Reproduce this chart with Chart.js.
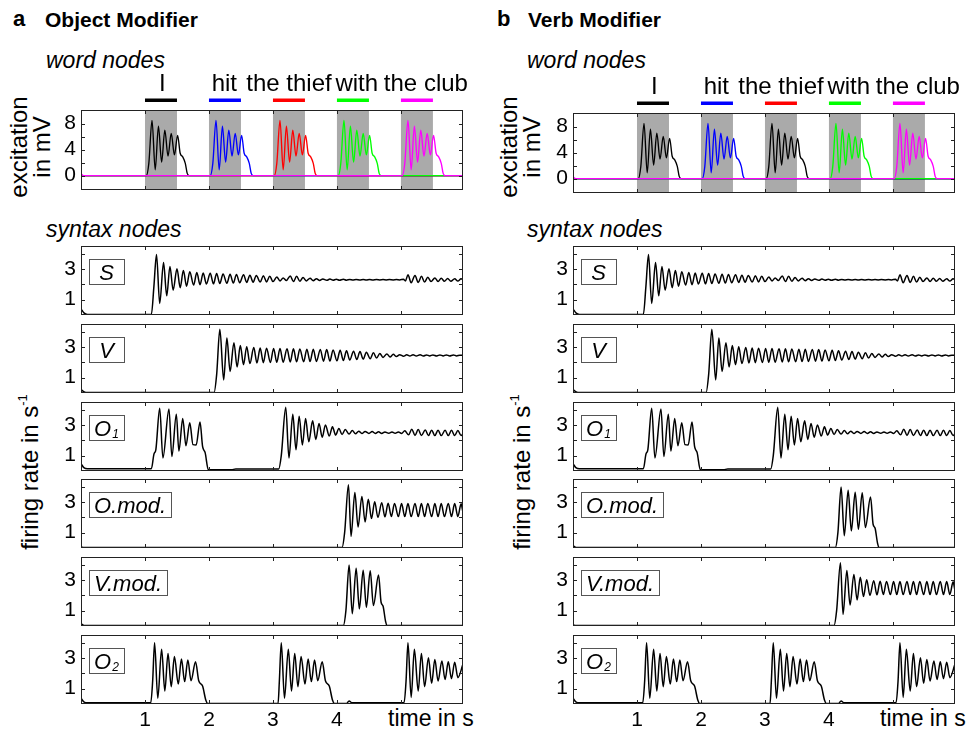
<!DOCTYPE html>
<html>
<head>
<meta charset="utf-8">
<title>Object vs. verb modifier</title>
<script src="https://cdn.jsdelivr.net/npm/chart.js@4.4.1/dist/chart.umd.min.js"></script>
<style>
  body { margin: 0; width: 978px; height: 731px; position: relative; overflow: hidden; background: #fff;
         font-family: "Liberation Sans", Arial, sans-serif; color: #000; }
  canvas { position: absolute; }
  .t { position: absolute; white-space: nowrap; }
  .rot { transform-origin: 0 0; transform: rotate(-90deg) translateX(-50%); }
</style>
</head>
<body>
<script>
// ===== AXES =====
const timeTicks = [1, 2, 3, 4, 5];
const timeTickLabels = [1, 2, 3, 4];
const excitationTicks = [0, 2, 4, 6, 8];
const excitationTickLabels = [0, 4, 8];
const rateTicks = [1, 2, 3, 4];
const rateTickLabels = [1, 3];

// ===== WORD INPUT =====
const words = ['I', 'hit', 'the thief', 'with', 'the club'];
const wordOn = [1, 2, 3, 4, 5];
const wordOff = [1.5, 2.5, 3.5, 4.5, 5.5];
const wordLabelAt = [1.27, 2.24, 3.25, 4.31, 5.39];

// word node excitation in mV, [time s, value]
const excI = [[0,0],[1.02,0],[1.06,1.9],[1.11,8.5],[1.16,0.9],[1.21,7.6],[1.26,2.1],[1.31,7.0],[1.36,3.0],[1.41,6.5],[1.46,3.2],[1.51,6.2],[1.55,3.45],[1.59,2.9],[1.63,1.9],[1.66,0.35],[1.69,0],[5.97,0]];
const excHit = [[0,0],[2.02,0],[2.06,1.9],[2.11,8.5],[2.16,0.9],[2.21,7.6],[2.26,2.1],[2.31,7.0],[2.36,3.0],[2.41,6.5],[2.46,3.2],[2.51,6.2],[2.55,3.45],[2.59,2.9],[2.63,1.9],[2.66,0.35],[2.69,0],[5.97,0]];
const excThief = [[0,0],[3.02,0],[3.06,1.9],[3.11,8.5],[3.16,0.9],[3.21,7.6],[3.26,2.1],[3.31,7.0],[3.36,3.0],[3.41,6.5],[3.46,3.2],[3.51,6.2],[3.55,3.45],[3.59,2.9],[3.63,1.9],[3.66,0.35],[3.69,0],[5.97,0]];
const excWith = [[0,0],[4.02,0],[4.06,1.9],[4.11,8.5],[4.16,0.9],[4.21,7.6],[4.26,2.1],[4.31,7.0],[4.36,3.0],[4.41,6.5],[4.46,3.2],[4.51,6.2],[4.55,3.45],[4.59,2.9],[4.63,1.9],[4.66,0.35],[4.69,0],[5.97,0]];
const excClub = [[0,0.3],[0.04,0.02],[0.08,0],[5.02,0],[5.06,1.9],[5.11,8.5],[5.16,0.9],[5.21,7.6],[5.26,2.1],[5.31,7.0],[5.36,3.0],[5.41,6.5],[5.46,3.2],[5.51,6.2],[5.55,3.45],[5.59,2.9],[5.63,1.9],[5.66,0.35],[5.69,0],[5.97,0]];

// ===== SYNTAX NODES: firing rate in 1/s, [time s, value] =====
const rateS = [[0,0.40],[0.05,0.12],[0.10,0.04],[1.10,0.04],[1.14,1.9],[1.18,3.95],[1.23,0.75],[1.29,3.42],[1.34,1.25],[1.39,3.17],[1.44,1.62],[1.50,3.02],[1.55,1.78],[1.60,2.90],[1.65,1.88],[1.70,2.82],[1.76,1.95],[1.81,2.77],[1.86,1.98],[1.91,2.74],[1.96,2.02],[2.02,2.72],[2.07,2.03],[2.12,2.70],[2.17,2.05],[2.22,2.68],[2.28,2.07],[2.33,2.66],[2.38,2.08],[2.43,2.64],[2.48,2.10],[2.54,2.62],[2.59,2.12],[2.64,2.60],[2.69,2.14],[2.74,2.58],[2.80,2.15],[2.85,2.56],[2.90,2.16],[2.95,2.53],[3.00,2.18],[3.06,2.48],[3.11,2.22],[3.16,2.42],[3.21,2.25],[3.27,2.55],[3.32,2.18],[3.37,2.52],[3.42,2.20],[3.47,2.45],[3.52,2.22],[3.58,2.40],[3.63,2.24],[3.68,2.37],[3.73,2.25],[3.78,2.35],[3.84,2.26],[3.89,2.34],[3.94,2.27],[3.99,2.33],[4.04,2.27],[4.10,2.33],[4.15,2.27],[4.20,2.32],[4.25,2.28],[4.30,2.32],[4.36,2.28],[4.41,2.31],[4.46,2.28],[4.51,2.31],[4.56,2.28],[4.62,2.31],[4.67,2.29],[4.72,2.31],[4.77,2.29],[4.82,2.31],[4.88,2.29],[4.93,2.31],[4.98,2.29],[5.04,2.33],[5.07,2.22],[5.11,2.62],[5.16,2.10],[5.22,2.58],[5.27,2.12],[5.32,2.52],[5.37,2.15],[5.42,2.46],[5.47,2.18],[5.53,2.42],[5.58,2.18],[5.63,2.40],[5.68,2.20],[5.73,2.38],[5.78,2.20],[5.84,2.37],[5.89,2.21],[5.94,2.36],[5.97,2.30]];
const rateV = [[0,0.22],[0.05,0.07],[0.10,0.03],[2.08,0.03],[2.12,1.2],[2.17,4.15],[2.23,0.85],[2.28,3.58],[2.33,1.40],[2.39,3.28],[2.44,1.70],[2.49,3.10],[2.54,1.85],[2.59,3.02],[2.64,1.92],[2.70,2.96],[2.75,1.96],[2.80,2.93],[2.85,1.98],[2.90,2.92],[2.96,1.99],[3.01,2.91],[3.06,2.00],[3.11,2.90],[3.16,2.01],[3.22,2.89],[3.27,2.02],[3.32,2.88],[3.37,2.03],[3.42,2.87],[3.48,2.04],[3.53,2.86],[3.58,2.05],[3.63,2.85],[3.68,2.06],[3.74,2.84],[3.79,2.07],[3.84,2.83],[3.89,2.08],[3.94,2.81],[4.00,2.10],[4.05,2.79],[4.10,2.12],[4.15,2.76],[4.20,2.15],[4.26,2.73],[4.31,2.18],[4.36,2.70],[4.41,2.21],[4.46,2.66],[4.52,2.24],[4.57,2.62],[4.62,2.28],[4.67,2.58],[4.72,2.32],[4.78,2.55],[4.83,2.35],[4.88,2.52],[4.93,2.38],[4.98,2.50],[5.04,2.40],[5.09,2.49],[5.14,2.41],[5.19,2.49],[5.24,2.41],[5.30,2.49],[5.35,2.41],[5.40,2.48],[5.45,2.42],[5.50,2.48],[5.56,2.42],[5.61,2.48],[5.66,2.42],[5.71,2.48],[5.76,2.42],[5.82,2.48],[5.87,2.42],[5.92,2.47],[5.97,2.45]];
const rateO1 = [[0,0.48],[0.05,0.20],[0.10,0.15],[1.10,0.15],[1.14,1.1],[1.17,1.4],[1.23,4.10],[1.28,0.85],[1.375,4.05],[1.42,0.95],[1.49,3.70],[1.53,1.30],[1.59,3.42],[1.64,1.65],[1.70,3.15],[1.75,1.72],[1.80,1.70],[1.86,3.20],[1.90,1.60],[1.94,1.20],[1.99,0.08],[2.35,0.08],[2.42,0.13],[3.09,0.13],[3.13,1.0],[3.20,4.15],[3.25,0.85],[3.31,3.70],[3.36,1.38],[3.41,3.57],[3.46,1.70],[3.51,3.42],[3.56,1.91],[3.62,3.27],[3.67,2.06],[3.72,3.10],[3.77,2.20],[3.82,3.00],[3.88,2.28],[3.93,2.88],[3.98,2.34],[4.03,2.77],[4.08,2.38],[4.13,2.70],[4.19,2.41],[4.24,2.64],[4.29,2.43],[4.34,2.60],[4.39,2.44],[4.44,2.58],[4.50,2.45],[4.55,2.57],[4.60,2.45],[4.65,2.56],[4.70,2.45],[4.75,2.55],[4.81,2.46],[4.86,2.55],[4.91,2.46],[4.96,2.55],[5.01,2.45],[5.06,2.62],[5.12,2.36],[5.17,2.72],[5.22,2.32],[5.27,2.70],[5.32,2.31],[5.38,2.68],[5.43,2.31],[5.48,2.66],[5.53,2.31],[5.58,2.66],[5.63,2.31],[5.69,2.65],[5.74,2.31],[5.79,2.65],[5.84,2.31],[5.89,2.64],[5.94,2.31],[5.97,2.45]];
// modifier node that stays active once bound
const rateModBound = [[0,0.05],[0.05,0.03],[4.08,0.03],[4.12,1.0],[4.18,4.13],[4.22,0.75],[4.28,3.62],[4.33,1.37],[4.39,3.36],[4.44,1.70],[4.49,3.18],[4.54,1.92],[4.59,3.02],[4.64,2.00],[4.70,2.95],[4.75,2.03],[4.80,2.92],[4.85,2.05],[4.90,2.90],[4.96,2.05],[5.01,2.90],[5.06,2.05],[5.11,2.90],[5.16,2.05],[5.22,2.90],[5.27,2.05],[5.32,2.90],[5.37,2.05],[5.42,2.90],[5.48,2.05],[5.53,2.90],[5.58,2.05],[5.63,2.90],[5.68,2.05],[5.74,2.90],[5.79,2.05],[5.84,2.90],[5.89,2.05],[5.94,2.88],[5.97,2.30]];
// modifier node that fires only during the word
const rateModBurst = [[0,0.15],[0.05,0.04],[4.10,0.04],[4.14,1.0],[4.19,3.98],[4.24,0.80],[4.30,3.76],[4.35,1.12],[4.41,3.63],[4.46,1.22],[4.52,3.60],[4.57,1.33],[4.65,3.33],[4.69,1.55],[4.72,1.30],[4.76,0.30],[4.78,0.04],[5.97,0.04]];
const rateO2 = [[0,0.37],[0.05,0.12],[0.10,0.08],[1.09,0.08],[1.12,1.5],[1.15,4.00],[1.20,0.37],[1.26,3.57],[1.31,0.85],[1.36,3.30],[1.41,1.13],[1.46,3.09],[1.52,1.30],[1.57,2.93],[1.62,1.46],[1.67,2.87],[1.72,1.52],[1.79,2.76],[1.84,1.52],[1.90,1.17],[1.95,0.26],[1.98,0.04],[3.08,0.04],[3.10,1.5],[3.13,4.00],[3.18,0.37],[3.24,3.57],[3.29,0.85],[3.34,3.30],[3.39,1.13],[3.44,3.09],[3.50,1.30],[3.55,2.93],[3.60,1.46],[3.65,2.87],[3.70,1.52],[3.77,2.76],[3.82,1.52],[3.88,1.17],[3.93,0.26],[3.96,0.04],[4.15,0.04],[4.19,0.20],[4.23,0.08],[5.05,0.10],[5.08,1.5],[5.11,4.00],[5.16,0.43],[5.21,3.57],[5.27,0.85],[5.32,3.30],[5.37,1.13],[5.43,3.02],[5.48,1.35],[5.53,2.90],[5.58,1.50],[5.64,2.80],[5.69,1.60],[5.74,2.75],[5.79,1.65],[5.84,2.72],[5.89,1.72],[5.97,2.60]];

// ===== LAYOUT =====
const T_MAX = 5.97;
const AXW = 60;          // room left of each plot for the y labels
const PLOT_W = 382;
const SYN_H = 69;
const SYN_TOPS = [246, 324, 402, 479, 557, 635];
const WORD_H = 80;
const FONT = '"Liberation Sans", Arial, sans-serif';
Chart.defaults.font.family = FONT;

const panels = [
  { letter: 'a', title: 'Object Modifier', letterX: 13, titleX: 45, labelX: 46,
    plotLeft: 81, wordTop: 110, excX: 27, mvX: 50, rateX: 38, timeX: 388,
    wordColors: ['#000000', '#0000ff', '#ff0000', '#00ff00', '#ff00ff'],
    rows: [{ name: 'S', data: rateS }, { name: 'V', data: rateV }, { name: 'O', sub: '1', data: rateO1 },
           { name: 'O.mod.', data: rateModBound }, { name: 'V.mod.', data: rateModBurst }, { name: 'O', sub: '2', data: rateO2 }] },
  { letter: 'b', title: 'Verb Modifier', letterX: 497, titleX: 528, labelX: 527,
    plotLeft: 573, wordTop: 113, excX: 517, mvX: 540, rateX: 530, timeX: 880,
    wordColors: ['#000000', '#0000ff', '#000000', '#00ff00', '#ff00ff'],
    rows: [{ name: 'S', data: rateS }, { name: 'V', data: rateV }, { name: 'O', sub: '1', data: rateO1 },
           { name: 'O.mod.', data: rateModBurst }, { name: 'V.mod.', data: rateModBound }, { name: 'O', sub: '2', data: rateO2 }] }
];
const wordTraces = [excI, excHit, excThief, excWith, excClub];

// box, inward ticks, input windows, word labels and node names
function framePlugin(o) {
  return {
    id: 'frame',
    beforeDatasetsDraw(chart) {
      if (!o.words) return;
      const { ctx, chartArea: a, scales: { x } } = chart;
      ctx.save();
      ctx.fillStyle = '#aaaaaa';
      wordOn.forEach((s, i) => {
        const x0 = x.getPixelForValue(s), x1 = x.getPixelForValue(wordOff[i]);
        ctx.fillRect(x0, a.top, x1 - x0, a.bottom - a.top);
      });
      ctx.restore();
    },
    afterDatasetsDraw(chart) {
      const { ctx, chartArea: a, scales: { x, y } } = chart;
      ctx.save();
      ctx.strokeStyle = '#222';
      ctx.lineWidth = 1;
      ctx.strokeRect(a.left + 0.5, a.top + 0.5, a.right - a.left - 1, a.bottom - a.top - 1);
      ctx.beginPath();
      timeTicks.forEach(v => {
        const px = Math.round(x.getPixelForValue(v)) + 0.5;
        ctx.moveTo(px, a.top); ctx.lineTo(px, a.top + 4);
        ctx.moveTo(px, a.bottom); ctx.lineTo(px, a.bottom - 4);
      });
      o.yTicks.forEach(v => {
        const py = Math.round(y.getPixelForValue(v)) + 0.5;
        ctx.moveTo(a.left, py); ctx.lineTo(a.left + 4, py);
        ctx.moveTo(a.right, py); ctx.lineTo(a.right - 4, py);
      });
      ctx.stroke();

      if (o.name) {
        ctx.font = 'italic 22px ' + FONT;
        const mainW = ctx.measureText(o.name).width;
        let subW = 0;
        if (o.sub) { ctx.font = 'italic 12px ' + FONT; subW = ctx.measureText(o.sub).width + 1; }
        const w = Math.round(Math.max(35, mainW + subW + 10));
        const bx = a.left + 8, by = a.top + 13;
        ctx.strokeStyle = '#555';
        ctx.strokeRect(bx + 0.5, by + 0.5, w, 25);
        ctx.fillStyle = '#000';
        const tx = bx + (w - mainW - subW) / 2;
        ctx.font = 'italic 22px ' + FONT;
        ctx.fillText(o.name, tx, by + 21);
        if (o.sub) { ctx.font = 'italic 12px ' + FONT; ctx.fillText(o.sub, tx + mainW + 1, by + 23); }
      }

      if (o.words) {
        ctx.font = '24px ' + FONT;
        ctx.textAlign = 'center';
        ctx.fillStyle = '#000';
        words.forEach((w, i) => ctx.fillText(w, x.getPixelForValue(wordLabelAt[i]), a.top - 19));
        o.barColors.forEach((c, i) => {
          const x0 = x.getPixelForValue(wordOn[i]), x1 = x.getPixelForValue(wordOff[i]);
          ctx.fillStyle = c;
          ctx.fillRect(x0, a.top - 11.5, x1 - x0, 3.5);
        });
      }
      ctx.restore();
    }
  };
}

function plot(o) {
  const xh = o.showTime ? 32 : 0;
  const padBottom = o.showTime ? 0 : 4;
  const c = document.createElement('canvas');
  c.width = AXW + PLOT_W + 4;
  c.height = o.padTop + o.height + xh + padBottom;
  c.style.left = (o.left - AXW) + 'px';
  c.style.top = (o.top - o.padTop) + 'px';
  document.body.appendChild(c);
  return new Chart(c, {
    type: 'line',
    data: { datasets: o.datasets },
    options: {
      responsive: false, animation: false, devicePixelRatio: 1, events: [],
      layout: { padding: { top: o.padTop, right: 4, bottom: padBottom, left: 0 } },
      plugins: { legend: { display: false }, tooltip: { enabled: false } },
      elements: { point: { radius: 0 }, line: { cubicInterpolationMode: 'monotone', borderJoinStyle: 'round' } },
      scales: {
        x: {
          type: 'linear', min: 0, max: T_MAX, display: !!o.showTime,
          grid: { display: false, drawTicks: false }, border: { display: false },
          ticks: { color: '#000', font: { size: 21 }, padding: 4, maxRotation: 0, autoSkip: false },
          afterBuildTicks: s => { s.ticks = timeTickLabels.map(v => ({ value: v })); },
          afterFit: s => { s.height = xh; s.paddingLeft = 0; s.paddingRight = 0; }
        },
        y: {
          type: 'linear', min: o.yMin, max: o.yMax,
          grid: { display: false, drawTicks: false }, border: { display: false },
          ticks: { color: '#000', font: { size: 21 }, padding: 5 },
          afterBuildTicks: s => { s.ticks = o.yLabels.map(v => ({ value: v })); },
          afterFit: s => { s.width = AXW; s.paddingTop = 0; s.paddingBottom = 0; }
        }
      }
    },
    plugins: [framePlugin(o.frame)]
  });
}

function text(str, left, baseline, size, style) {
  const d = document.createElement('div');
  d.className = 't';
  d.style.cssText = `left:${left}px;top:${baseline - 0.8465 * size}px;font-size:${size}px;line-height:${size}px;${style || ''}`;
  d.innerHTML = str;
  document.body.appendChild(d);
}
function vtext(str, baselineX, centerY, size) {
  const d = document.createElement('div');
  d.className = 't rot';
  d.style.cssText = `left:${baselineX - 0.8465 * size}px;top:${centerY}px;font-size:${size}px;line-height:${size}px;`;
  d.innerHTML = str;
  document.body.appendChild(d);
}

const toXY = pts => pts.map(([x, y]) => ({ x, y }));

panels.forEach(p => {
  text(p.letter, p.letterX, 27, 22, 'font-weight:bold');
  text(p.title, p.titleX, 27, 21, 'font-weight:bold');
  text('word nodes', p.labelX, 68, 23, 'font-style:italic');
  text('syntax nodes', p.labelX, 237, 23, 'font-style:italic');
  text('time in s', p.timeX, 726, 23);
  vtext('excitation', p.excX, 147, 24);
  vtext('in mV', p.mvX, 147, 24);
  vtext('firing rate in s<span style="font-size:13px;position:relative;top:-11px">-1</span>', p.rateX, 472, 24);

  // word nodes: last word drawn on top
  const wordSets = wordTraces.map((tr, i) => ({
    data: toXY(tr), borderColor: p.wordColors[i], borderWidth: 1.35
  })).reverse();
  plot({
    left: p.plotLeft, top: p.wordTop, height: WORD_H, padTop: 50,
    yMin: -2.2, yMax: 10.1, yLabels: excitationTickLabels,
    datasets: wordSets,
    frame: { yTicks: excitationTicks, words: true, barColors: ['#000000', '#0000ff', '#ff0000', '#00ff00', '#ff00ff'] }
  });

  p.rows.forEach((r, i) => {
    plot({
      left: p.plotLeft, top: SYN_TOPS[i], height: SYN_H, padTop: 4,
      yMin: 0, yMax: 4.5, yLabels: rateTickLabels, showTime: i === p.rows.length - 1,
      datasets: [{ data: toXY(r.data), borderColor: '#000', borderWidth: 1.5 }],
      frame: { yTicks: rateTicks, name: r.name, sub: r.sub }
    });
  });
});
</script>
</body>
</html>
